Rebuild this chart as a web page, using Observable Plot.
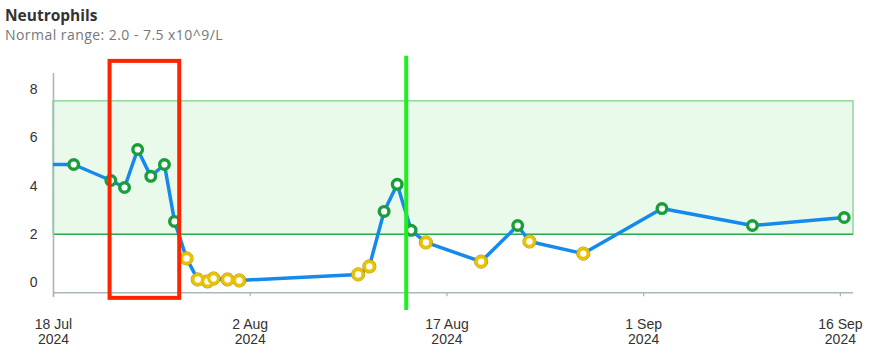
<!DOCTYPE html>
<html><head><meta charset="utf-8">
<script src="https://cdn.jsdelivr.net/npm/d3@7"></script>
<script src="https://cdn.jsdelivr.net/npm/@observablehq/plot@0.6"></script>
<style>
body{margin:0;background:#fff;}
#hdr{position:relative;height:48px;font-family:"Open Sans",sans-serif;}
#t{position:absolute;left:5px;top:6.6px;line-height:16px;font-size:15.5px;font-weight:bold;color:#333;white-space:nowrap;}
#s{position:absolute;left:5px;top:28.3px;line-height:14px;font-size:14px;letter-spacing:0.45px;color:#777;white-space:nowrap;}
#chart svg{overflow:visible;display:block;}
</style></head><body>
<div id="hdr"><div id="t">Neutrophils</div><div id="s">Normal range: 2.0 - 7.5 x10^9/L</div></div>
<div id="chart"></div>
<script>
// Measurement dates (UTC) and neutrophil counts (x10^9/L)
const dates = [
  "2024-07-12T12:00Z",
  "2024-07-19T13:00Z","2024-07-22T09:00Z","2024-07-23T10:00Z","2024-07-24T10:00Z",
  "2024-07-25T10:00Z","2024-07-26T11:00Z","2024-07-27T05:30Z","2024-07-28T03:30Z",
  "2024-07-29T00:00Z","2024-07-29T18:00Z","2024-07-30T05:00Z","2024-07-31T06:30Z",
  "2024-08-01T04:00Z","2024-08-10T05:30Z","2024-08-11T02:00Z","2024-08-12T05:00Z",
  "2024-08-13T05:00Z","2024-08-14T06:30Z","2024-08-15T09:30Z","2024-08-19T14:30Z",
  "2024-08-22T09:30Z","2024-08-23T07:00Z","2024-08-27T09:30Z","2024-09-02T09:30Z",
  "2024-09-09T07:00Z","2024-09-16T07:00Z"
];
const values = [
  4.89,
  4.89, 4.23, 3.94, 5.51,
  4.40, 4.89, 2.54, 1.01,
  0.14, 0.06, 0.18, 0.14,
  0.10, 0.35, 0.68, 2.95,
  4.07, 2.17, 1.67, 0.88,
  2.37, 1.71, 1.21, 3.07,
  2.37, 2.70
];
const normalLow = 2.0;
const normalHigh = 7.5;
const xDomain = ["2024-07-18T00:00Z", "2024-09-17T00:00Z"];
const yDomain = [-0.41, 8.65];
const xTicks = ["2024-07-18T00:00Z","2024-08-02T00:00Z","2024-08-17T00:00Z","2024-09-01T00:00Z","2024-09-16T00:00Z"];
const yTicks = [0, 2, 4, 6, 8];
// annotations
const highlightRange = ["2024-07-22T07:30Z", "2024-07-27T15:00Z"];
const highlightY = [-0.64, 9.15];
const markerDate = "2024-08-13T21:30Z";
const markerY = [-1.14, 9.36];

const data = dates.map((d, i) => ({date: new Date(d), value: values[i]}));
const visible = data.filter(d => d.date >= new Date(xDomain[0]));
const xd = xDomain.map(d => new Date(d));
const band = [{x1: xd[0], x2: xd[1], y1: normalLow, y2: normalHigh}];
const hl = [{x1: new Date(highlightRange[0]), x2: new Date(highlightRange[1]), y1: highlightY[0], y2: highlightY[1]}];
const fmt = d3.utcFormat("%-d %b\n%Y");
const axisColor = "#aab6be";

const chart = Plot.plot({
  width: 875, height: 308,
  marginTop: 25, marginBottom: 63.7, marginLeft: 53, marginRight: 22,
  style: {fontFamily: "'Liberation Sans', Arial, sans-serif", fontSize: "14px", color: "#333", background: "#fff"},
  x: {type: "utc", domain: xd},
  y: {domain: yDomain},
  marks: [
    Plot.rect(band, {x1: "x1", x2: "x2", y1: "y1", y2: "y2", fill: "#eafaea", stroke: "#8fd6a0", strokeWidth: 1.5}),
    Plot.ruleY([normalLow], {stroke: "#2aaa4a", strokeWidth: 1.2}),
    Plot.ruleY([yDomain[0]], {stroke: axisColor, strokeWidth: 1.6}),
    Plot.ruleX([xd[0]], {y1: yDomain[0] - 0.2, y2: yDomain[1], stroke: axisColor, strokeWidth: 1.6}),
    Plot.axisX({ticks: xTicks.map(d => new Date(d)), tickFormat: fmt, tickSize: 4, tickPadding: 21.7, stroke: axisColor, strokeWidth: 1.3, fill: "#333", fontSize: 14, lineHeight: 1.05, label: null}),
    Plot.axisY({ticks: yTicks, tickSize: 0, tickPadding: 16, fill: "#333", fontSize: 14, label: null}),
    Plot.line(data, {x: "date", y: "value", stroke: "#1589ec", strokeWidth: 3.5, clip: true}),
    Plot.dot(visible.filter(d => d.value < normalLow), {x: "date", y: "value", r: 6.6, fill: "none", stroke: "#b8960a", strokeWidth: 1}),
    Plot.dot(visible.filter(d => d.value < normalLow), {x: "date", y: "value", r: 4.8, fill: "#fff", stroke: "#e9c200", strokeWidth: 3.2}),
    Plot.dot(visible.filter(d => d.value >= normalLow), {x: "date", y: "value", r: 4.8, fill: "#fff", stroke: "#1a9e3c", strokeWidth: 3.4}),
    Plot.rect(hl, {x1: "x1", x2: "x2", y1: "y1", y2: "y2", fill: "none", stroke: "#ff2400", strokeWidth: 4}),
    Plot.ruleX([new Date(markerDate)], {y1: markerY[0], y2: markerY[1], stroke: "#1ef01e", strokeWidth: 4})
  ]
});
document.getElementById("chart").appendChild(chart);
</script>
</body></html>
